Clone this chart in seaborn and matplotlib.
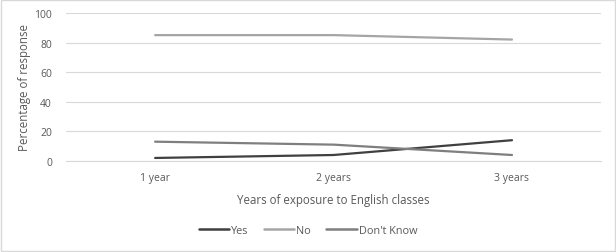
import pandas as pd
import seaborn as sns
import matplotlib.pyplot as plt

years = ['1 year', '2 years', '3 years']
yes = [2, 4, 14]
no = [85, 85, 82]
dont_know = [13, 11, 4]

sns.set_style('white')
plt.rcParams['font.family'] = ['Open Sans', 'DejaVu Sans']

df = pd.DataFrame({'Years': years * 3,
                   'Percent': yes + no + dont_know,
                   'Answer': ['Yes'] * 3 + ['No'] * 3 + ["Don't Know"] * 3})
colores = {'Yes': '#404040', 'No': '#a5a5a5', "Don't Know": '#7f7f7f'}

fig = plt.figure(figsize=(6.16, 2.53), dpi=100)
ax = fig.add_axes([0.107, 0.36, 0.869, 0.585])
sns.lineplot(data=df, x='Years', y='Percent', hue='Answer', palette=colores,
             linewidth=1.6, ax=ax, legend=False)

ax.set_xlim(-0.5, 2.5)
ax.set_ylim(0, 100)
ax.set_yticks([0, 20, 40, 60, 80, 100])
ax.yaxis.grid(True, color='#d9d9d9', linewidth=0.8)
ax.set_axisbelow(True)
for s in ['top', 'right', 'left']:
    ax.spines[s].set_visible(False)
ax.spines['bottom'].set_color('#d9d9d9')
ax.tick_params(length=0, labelsize=7.5, colors='#595959')
ax.tick_params(axis='y', pad=10)
ax.tick_params(axis='x', pad=8)
ax.set_xlabel('Years of exposure to English classes', fontsize=8.3, color='#595959', labelpad=7)
ax.set_ylabel('Percentage of response', fontsize=8.3, color='#595959', labelpad=2)

handles = [plt.Line2D([], [], color=colores[k], linewidth=1.8) for k in colores]
fig.legend(handles, list(colores.keys()), loc='center', bbox_to_anchor=(0.5, 0.085),
           ncol=3, frameon=False, fontsize=7.8, labelcolor='#595959',
           handlelength=2.8, handletextpad=0.2, columnspacing=1.4)

fig.patches.append(plt.Rectangle((0.001, 0.002), 0.997, 0.995, transform=fig.transFigure,
                                 fill=False, edgecolor='#d9d9d9', linewidth=1))
fig.savefig('out.png', dpi=100)
